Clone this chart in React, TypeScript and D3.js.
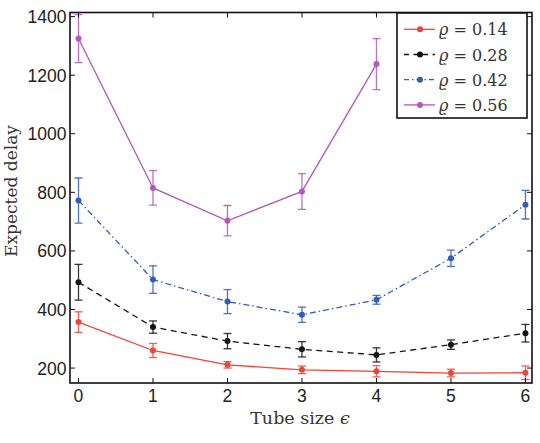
import React from 'react';
import * as d3 from 'd3';

// tube size on the x axis
const tubeSizes = [0, 1, 2, 3, 4, 5, 6];

// mean expected delay and half-width of the error bar for each rho
const delay014 = [357, 260, 211, 194, 189, 183, 184];
const err014 = [35, 24, 11, 13, 19, 13, 23];
const delay028 = [493, 340, 292, 264, 245, 280, 319];
const err028 = [61, 21, 26, 26, 24, 16, 30];
const delay042 = [772, 502, 427, 382, 433, 575, 758];
const err042 = [77, 47, 41, 26, 15, 28, 49];
const delay056 = [1325, 815, 703, 803, 1238];
const err056 = [82, 59, 52, 61, 87];

const yTicks = [200, 400, 600, 800, 1000, 1200, 1400];
const legendLabels = ['0.14', '0.28', '0.42', '0.56'];

const series = [
  { label: legendLabels[0], values: delay014, errs: err014, color: '#ef4436', dash: 'none' },
  { label: legendLabels[1], values: delay028, errs: err028, color: '#151515', dash: '6,4.5' },
  { label: legendLabels[2], values: delay042, errs: err042, color: '#2f5db8', dash: '6,3,1.5,3' },
  { label: legendLabels[3], values: delay056, errs: err056, color: '#b457bb', dash: 'none' },
];

const W = 540;
const H = 443;
const plot = { left: 70, right: 532, top: 12.5, bottom: 383 };

const tickFont = '"Liberation Sans", Arial, Helvetica, sans-serif';
const serifFont = '"DejaVu Serif", "Liberation Serif", serif';

export default function App() {
  const x = d3.scaleLinear().domain([-0.114, 6.088]).range([plot.left, plot.right]);
  const y = d3.scaleLinear().domain([149, 1414]).range([plot.bottom, plot.top]);

  const line = d3
    .line<number>()
    .x((_, i) => x(tubeSizes[i]))
    .y((d) => y(d));

  const cap = 4;
  const tickLen = 5;

  return (
    <svg
      width={W}
      height={H}
      viewBox={`0 0 ${W} ${H}`}
      style={{ position: 'fixed', left: 0, top: 0, background: '#fff' }}
    >
      <defs>
        <clipPath id="plot-clip">
          <rect x={plot.left} y={plot.top} width={plot.right - plot.left} height={plot.bottom - plot.top} />
        </clipPath>
      </defs>
      <rect width={W} height={H} fill="#fff" />

      {/* series: lines, error bars, markers */}
      <g clipPath="url(#plot-clip)">
        {series.map((s) => (
          <g key={s.label}>
            <path
              d={line(s.values) || ''}
              fill="none"
              stroke={s.color}
              strokeWidth={1.3}
              strokeDasharray={s.dash}
            />
            {s.values.map((v, i) => {
              const cx = x(tubeSizes[i]);
              const yHi = y(v + s.errs[i]);
              const yLo = y(v - s.errs[i]);
              return (
                <g key={i} stroke={s.color} strokeWidth={1.3} strokeOpacity={0.85}>
                  <line x1={cx} x2={cx} y1={yHi} y2={yLo} />
                  <line x1={cx - cap} x2={cx + cap} y1={yHi} y2={yHi} />
                  <line x1={cx - cap} x2={cx + cap} y1={yLo} y2={yLo} />
                  <circle cx={cx} cy={y(v)} r={3} fill={s.color} stroke="none" />
                </g>
              );
            })}
          </g>
        ))}
      </g>

      {/* ticks on all four sides, pointing inward */}
      <g stroke="#111" strokeWidth={1}>
        {tubeSizes.map((t) => (
          <g key={t}>
            <line x1={x(t)} x2={x(t)} y1={plot.bottom} y2={plot.bottom - tickLen} />
            <line x1={x(t)} x2={x(t)} y1={plot.top} y2={plot.top + tickLen} />
          </g>
        ))}
        {yTicks.map((t) => (
          <g key={t}>
            <line x1={plot.left} x2={plot.left + tickLen} y1={y(t)} y2={y(t)} />
            <line x1={plot.right} x2={plot.right - tickLen} y1={y(t)} y2={y(t)} />
          </g>
        ))}
      </g>

      <rect
        x={plot.left}
        y={plot.top}
        width={plot.right - plot.left}
        height={plot.bottom - plot.top}
        fill="none"
        stroke="#111"
        strokeWidth={1.6}
      />

      {/* tick labels */}
      <g fontFamily={tickFont} fontSize={17.5} fill="#222">
        {tubeSizes.map((t) => (
          <text key={t} x={x(t)} y={402} textAnchor="middle">
            {t}
          </text>
        ))}
        {yTicks.map((t) => (
          <text key={t} x={66.5} y={y(t) + 6.5} textAnchor="end">
            {t}
          </text>
        ))}
      </g>

      {/* axis titles */}
      <text x={300} y={424} textAnchor="middle" fontFamily={serifFont} fontSize={17.5} fill="#333">
        Tube size <tspan fontStyle="italic">ϵ</tspan>
      </text>
      <text
        transform="translate(17,191) rotate(-90)"
        textAnchor="middle"
        fontFamily={serifFont}
        fontSize={17}
        fill="#333"
      >
        Expected delay
      </text>

      {/* legend */}
      <g>
        <rect x={397} y={13} width={130} height={105} fill="#fff" stroke="#111" strokeWidth={1.6} />
        {series.map((s, i) => {
          const cy = 29.3 + i * 25.2;
          return (
            <g key={s.label}>
              <line
                x1={404}
                x2={435}
                y1={cy}
                y2={cy}
                stroke={s.color}
                strokeWidth={1.3}
                strokeDasharray={s.dash === 'none' ? 'none' : i === 1 ? '5,4.5' : '5,3,1.5,3'}
              />
              <circle cx={420} cy={cy} r={3} fill={s.color} />
              <text x={439} y={cy + 6} fontFamily={serifFont} fontSize={16} fill="#333">
                <tspan fontStyle="italic">ϱ</tspan> = {s.label}
              </text>
            </g>
          );
        })}
      </g>
    </svg>
  );
}
